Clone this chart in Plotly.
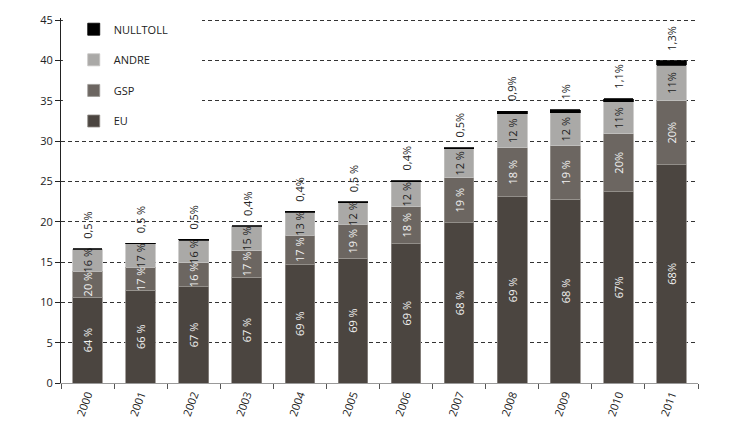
import plotly.graph_objects as go

# År og verdier (mrd. kr) per tollordning, lest av figuren
years = ["2000", "2001", "2002", "2003", "2004", "2005",
         "2006", "2007", "2008", "2009", "2010", "2011"]

eu = [10.65, 11.48, 11.93, 13.13, 14.70, 15.49, 17.30, 19.88, 23.10, 22.82, 23.73, 27.08]
gsp = [3.23, 2.89, 2.97, 3.27, 3.65, 4.21, 4.56, 5.59, 6.10, 6.62, 7.17, 7.95]
andre = [2.69, 2.90, 2.83, 3.03, 2.85, 2.66, 3.11, 3.56, 4.18, 4.10, 3.97, 4.40]
nulltoll = [0.08, 0.09, 0.09, 0.08, 0.09, 0.11, 0.10, 0.15, 0.33, 0.37, 0.39, 0.55]

eu_lbl = ["64 %", "66 %", "67 %", "67 %", "69 %", "69 %",
          "69 %", "68 %", "69 %", "68 %", "67%", "68%"]
gsp_lbl = ["20 %", "17 %", "16 %", "17 %", "17 %", "19 %",
           "18 %", "19 %", "18 %", "19 %", "20%", "20%"]
andre_lbl = ["16 %", "17 %", "16 %", "15 %", "13 %", "12 %",
             "12 %", "12 %", "12 %", "12 %", "11%", "11%"]
null_lbl = ["0,5 %", "0,5 %", "0,5%", "0,4%", "0,4%", "0,5 %",
            "0,4%", "0,5%", "0,9%", "1%", "1,1%", "1,3%"]

FONT = "Open Sans"
C_EU, C_GSP, C_ANDRE, C_NULL = "#4b4540", "#6c6661", "#aaa9a7", "#000000"

fig = go.Figure()

def add(name, vals, lbl, color, edge, tcolor, rank):
    fig.add_trace(go.Bar(
        x=years, y=vals, name=name, legendgroup=name, legendrank=rank,
        marker=dict(color=color, line=dict(color=edge, width=0.8)),
        text=lbl, textposition="inside" if lbl else "none",
        textangle=-90, insidetextanchor="middle", constraintext="none",
        textfont=dict(family=FONT, size=11, color=tcolor),
        hoverinfo="skip",
    ))

add("EU", eu, eu_lbl, C_EU, "#8f8a86", "#f2f2f2", 4)
add("GSP", gsp, gsp_lbl, C_GSP, "#9c9894", "#f2f2f2", 3)
add("ANDRE", andre, andre_lbl, C_ANDRE, "#c4c3c2", "#222222", 2)
add("NULLTOLL", nulltoll, None, C_NULL, "#000000", "#222222", 1)

# andel nulltoll over hver søyle (x som indeks, ellers tolkes "2000" som tall)
totals = [a + b + c + d for a, b, c, d in zip(eu, gsp, andre, nulltoll)]
for i, (tot, t) in enumerate(zip(totals, null_lbl)):
    fig.add_annotation(x=i, y=tot, text=t, textangle=-90, showarrow=False,
                       yanchor="bottom", yshift=8,
                       font=dict(family=FONT, size=11, color="#222222"))

# hvit bakgrunn bak tegnforklaringen (skjuler rutenettet der)
fig.add_shape(type="rect", xref="paper", yref="paper", layer="above",
              x0=0.003, x1=0.2214, y0=0.70, y1=1.02,
              fillcolor="white", line=dict(width=0))

fig.update_layout(
    width=730, height=431,
    margin=dict(l=61, r=32, t=18, b=48),
    barmode="stack", bargap=0.44,
    plot_bgcolor="white", paper_bgcolor="white",
    font=dict(family=FONT, size=11, color="#222222"),
    legend=dict(x=0.02, y=1.009, xanchor="left", yanchor="top",
                traceorder="grouped", tracegroupgap=11.6,
                bgcolor="rgba(0,0,0,0)", font=dict(size=11)),
    xaxis=dict(type="category", range=[-0.5, 11.5], tickangle=-70,
               ticks="outside", tickson="boundaries", ticklen=5,
               tickcolor="#555555", showline=True, linecolor="#999999",
               linewidth=1, showgrid=False),
    yaxis=dict(range=[0, 45.28], tick0=0, dtick=5, showgrid=True,
               gridcolor="#333333", griddash="4px,3px", gridwidth=1,
               zeroline=False, showline=True, linecolor="#222222",
               linewidth=1, ticks="outside", ticklen=5, tickcolor="#222222"),
)

fig.write_html("out.html", config={"displayModeBar": False},
               post_script="document.body.style.margin='0px';")
